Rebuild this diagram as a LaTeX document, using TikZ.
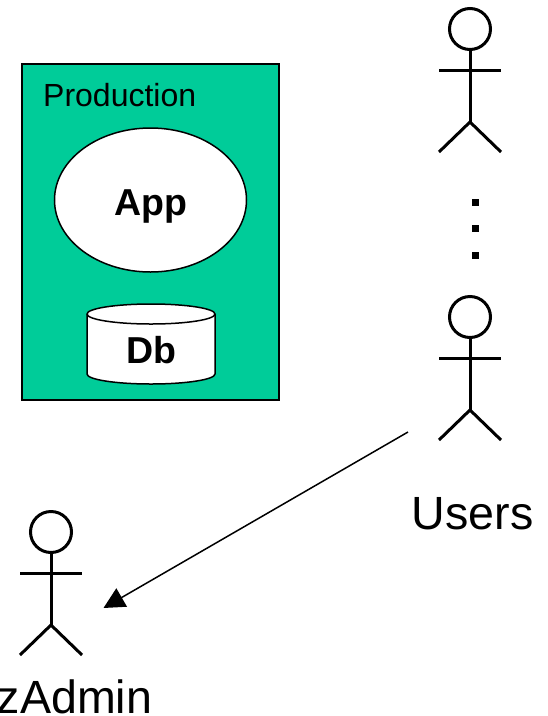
\documentclass[tikz,border=0pt]{standalone}
\usepackage{fontspec}
\setmainfont{Liberation Sans}
\usetikzlibrary{arrows.meta,shapes.geometric}
\definecolor{prodgreen}{HTML}{00CC99}
\tikzset{
  actor/.style={line width=3pt,line cap=butt},
  shape line/.style={draw=black,line width=1.5pt},
  label big/.style={inner sep=0pt,anchor=base,font=\fontsize{46.6}{50}\selectfont},
  label bold/.style={inner sep=0pt,anchor=base,font=\fontsize{37.5}{40}\selectfont\bfseries},
  dot/.style={fill=black,inner sep=0pt,minimum size=7pt}
}
\begin{document}
\begin{tikzpicture}[x=1pt,y=-1pt]
  \useasboundingbox (0,0) rectangle (548,716);
  \node (prod) [shape line,fill=prodgreen,minimum width=257pt,minimum height=336pt,inner sep=0pt] at (150.5,232) {};
  \node (prodlabel) [inner sep=0pt,anchor=base west,font=\fontsize{32}{36}\selectfont] at (43,106.5) {Production};
  \node (app) [shape line,fill=white,ellipse,minimum width=192pt,minimum height=144pt,inner sep=0pt] at (150.5,200) {};
  \node (applabel) [label bold] at (150.5,215) {App};
  % the db drum
  \draw [shape line,fill=white] (87,314) -- (87,374)
    arc [start angle=180,end angle=360,x radius=64pt,y radius=10pt] -- (215,314)
    arc [start angle=0,end angle=180,x radius=64pt,y radius=10pt] -- cycle;
  \draw [shape line] (87,314) arc [start angle=180,end angle=360,x radius=64pt,y radius=10pt];
  \node (dblabel) [label bold] at (151,363) {Db};
  % stick figures
  \foreach \name/\x/\y in {top/470/0,usr/470/288,adm/51/503}{
    \begin{scope}[shift={(\x,\y)}]
      \node (\name head) [draw,actor,circle,minimum size=41pt,inner sep=0pt] at (0,29) {};
      \coordinate (\name hip) at (0,122);
      \draw [actor] (\name head) -- (\name hip);
      \draw [actor] (-31,70) -- (31,70);
      \draw [actor] (-31,152) -- (\name hip) -- (31,152);
    \end{scope}
  }
  \node (d1) [dot] at (475,202) {};
  \node (d2) [dot] at (475,228) {};
  \node (d3) [dot] at (475,255) {};
  \node (users) [label big] at (472.5,529) {Users};
  \node (admin) [label big] at (74.5,713) {zAdmin};
  \coordinate (from) at (408,432);
  \coordinate (to) at (103.5,608);
  \draw [line width=1.5pt,-{Triangle[length=21pt,width=21pt]}] (from) -- (to);
\end{tikzpicture}
\end{document}
